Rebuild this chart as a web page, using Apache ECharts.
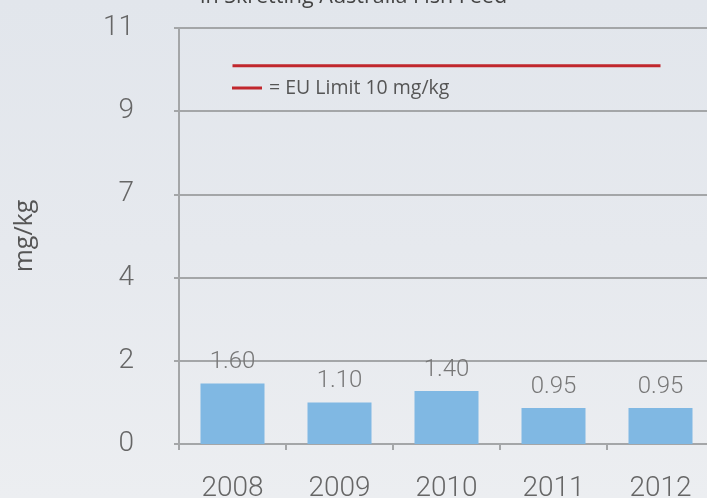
<!DOCTYPE html>
<html><head><meta charset="utf-8">
<script src="https://cdn.jsdelivr.net/npm/echarts@6/dist/echarts.min.js"></script>
<style>html,body{margin:0;padding:0;}#c{width:707px;height:498px;background:linear-gradient(180deg,#e2e6ec 0%,#e6e9ee 50%,#eceef1 100%);}</style>
</head><body><div id="c"></div>
<script>
const categories = ['2008','2009','2010','2011','2012'];
const values = [1.60, 1.10, 1.40, 0.95, 0.95];
const euLimit = [10, 10, 10, 10, 10];
const yTickLabels = ['0','2','4','7','9','11'];
const valueLabels = ['1.60','1.10','1.40','0.95','0.95'];
const titleText = 'in Skretting Australia Fish Feed';
const yAxisName = 'mg/kg';
const limitName = '= EU Limit 10 mg/kg';

const chart = echarts.init(document.getElementById('c'), null, {renderer:'canvas'});
const thin = 'Roboto, "Helvetica Neue", Arial, sans-serif';
chart.setOption({
  backgroundColor: 'transparent',
  animation: false,
  title: {text: titleText, left: 'center', top: -14, padding: 0,
    textStyle: {fontFamily: '"Open Sans", sans-serif', fontSize: 21.5, fontWeight: 'normal', color: '#444'}},
  legend: {data: [{name: limitName, icon: 'rect'}], left: 232, top: 78, padding: 0, itemWidth: 30, itemHeight: 3,
    itemGap: 10, textStyle: {fontFamily: '"Open Sans", sans-serif', fontSize: 19.5, color: '#555', padding:[0,0,0,2]}},
  grid: {left: 179, right: -7, top: 28, bottom: 54, outerBoundsMode: 'none', containLabel: false},
  xAxis: {type: 'category', data: categories,
    axisLine: {lineStyle: {color: '#a4a6a8', width: 2}},
    axisTick: {show: true, length: 6, lineStyle: {color: '#a4a6a8', width: 2}},
    axisLabel: {fontFamily: thin, fontWeight: 300, fontSize: 28, color: '#666', margin: 31}},
  yAxis: {type: 'value', min: 0, max: 11, interval: 2.2,
    name: yAxisName, nameLocation: 'middle', nameGap: 142, nameRotate: 90,
    nameTextStyle: {fontFamily: '"Open Sans", sans-serif', fontSize: 25, color: '#555'},
    axisLine: {show: true, lineStyle: {color: '#a4a6a8', width: 2}},
    axisTick: {show: true, length: 5, lineStyle: {color: '#a4a6a8', width: 2}},
    splitLine: {show: true, lineStyle: {color: '#a4a6a8', width: 2}},
    axisLabel: {fontFamily: thin, fontWeight: 300, fontSize: 28, color: '#666', margin: 45,
      formatter: (v, i) => yTickLabels[i]}},
  series: [
    {type: 'bar', data: values, barWidth: 64, itemStyle: {color: '#80b8e3'},
     label: {show: true, position: 'top', distance: 9, fontFamily: thin, fontWeight: 300, fontSize: 24, color: '#777',
       formatter: p => valueLabels[p.dataIndex]}},
    {type: 'line', name: limitName, data: euLimit, symbol: 'none', itemStyle:{color:'#c1272d'},
     lineStyle: {color: '#c1272d', width: 3}}
  ]
});
</script></body></html>
